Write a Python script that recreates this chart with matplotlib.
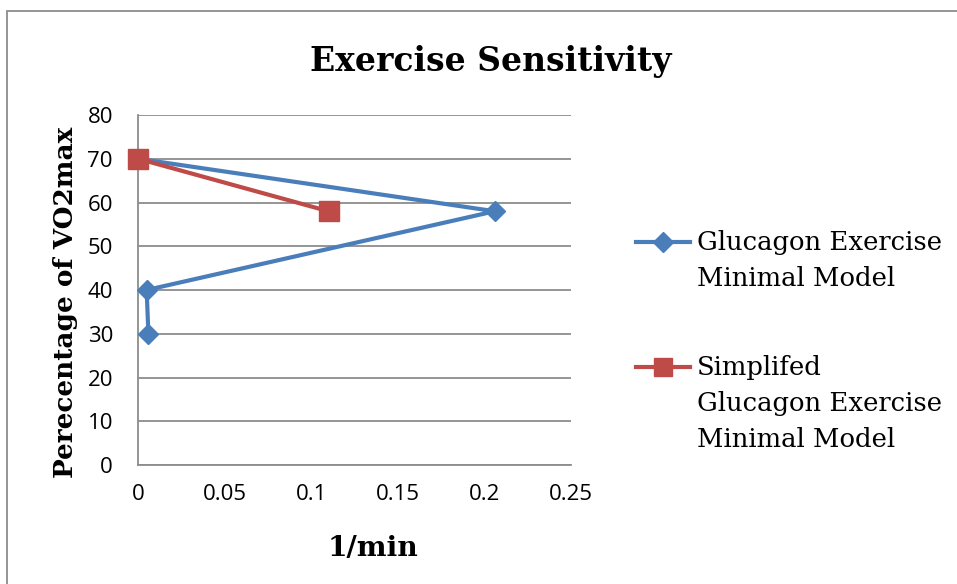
import matplotlib.pyplot as plt
from matplotlib.lines import Line2D
from matplotlib.patches import Rectangle

# data
glucagon_x = [0.0, 0.206, 0.005, 0.006]
glucagon_y = [70, 58, 40, 30]
simplified_x = [0.0, 0.11]
simplified_y = [70, 58]

x_ticks = [0, 0.05, 0.1, 0.15, 0.2, 0.25]
x_labels = ["0", "0.05", "0.1", "0.15", "0.2", "0.25"]
y_ticks = [0, 10, 20, 30, 40, 50, 60, 70, 80]

names = ["Glucagon Exercise\nMinimal Model",
         "Simplifed\nGlucagon Exercise\nMinimal Model"]
colors = ["#4a7ebb", "#be4b48"]

serif = "DejaVu Serif"
sans = "Open Sans"
grey = "#8c8c8c"

W, H = 957, 584
fig = plt.figure(figsize=(W / 100, H / 100), dpi=100)
ax = fig.add_axes([138 / W, 1 - 465 / H, (571 - 138) / W, (465 - 115) / H])
renderer = fig.canvas.get_renderer()


def fit_width(txt, target_px):
    # scale font so the drawn text is target_px wide
    w = txt.get_window_extent(renderer).width
    txt.set_fontsize(txt.get_fontsize() * target_px / w)


# chart-area border, runs off the right and bottom edges
fig.patches.append(Rectangle((7 / W, -0.1), 1.2, 1 - 11 / H + 0.1,
                             transform=fig.transFigure, fill=False,
                             edgecolor=grey, linewidth=1.3))

ax.plot(glucagon_x, glucagon_y, color=colors[0], linewidth=3.0, marker="D",
        markersize=10, markeredgecolor=colors[0], clip_on=False, zorder=3)
ax.plot(simplified_x, simplified_y, color=colors[1], linewidth=3.0, marker="s",
        markersize=14, markeredgecolor=colors[1], clip_on=False, zorder=3)

ax.set_xlim(0, 0.25)
ax.set_ylim(0, 80)
ax.set_xticks(x_ticks)
ax.set_xticklabels(x_labels)
ax.set_yticks(y_ticks)
ax.yaxis.grid(True, color=grey, linewidth=1.3)
ax.set_axisbelow(True)
for s in ["top", "right"]:
    ax.spines[s].set_visible(False)
for s in ["left", "bottom"]:
    ax.spines[s].set_color(grey)
    ax.spines[s].set_linewidth(1.3)
ax.tick_params(axis="x", length=0, labelsize=16, pad=14)
ax.tick_params(axis="y", length=0, labelsize=16, pad=18)
for t in ax.get_xticklabels() + ax.get_yticklabels():
    t.set_fontfamily(sans)

title = fig.text(491 / W, 1 - 61 / H, "Exercise Sensitivity", ha="center",
                 va="center", fontsize=20, fontweight="bold", family=serif)
fit_width(title, 362)
xlab = fig.text(373 / W, 1 - 548 / H, "1/min", ha="center", va="center",
                fontsize=16, fontweight="bold", family=serif)
fit_width(xlab, 91)
ylab = fig.text(66 / W, 1 - 302 / H, "Perecentage of VO2max", ha="center",
                va="center", rotation=90, fontsize=16, fontweight="bold",
                family=serif)
ylab.set_rotation(0)
fit_width(ylab, 350)
ylab.set_rotation(90)

# legend drawn by hand: marker sits on the first line of each label
probe = fig.text(0, 0, "Glucagon Exercise", fontsize=16, family=serif)
fit_width(probe, 245)
legend_fs = probe.get_fontsize()
probe.remove()
em = legend_fs * 100 / 72

legend_y = [242, 367]
markers = ["D", "s"]
msizes = [10, 13]
for name, c, y, m, ms in zip(names, colors, legend_y, markers, msizes):
    fig.add_artist(Line2D([636 / W, 663 / W, 690 / W], [1 - y / H] * 3,
                          transform=fig.transFigure, color=c, linewidth=3.0,
                          marker=m, markersize=ms, markevery=[1],
                          markeredgecolor=c))
    fig.text(697 / W, 1 - (y - 0.45 * em) / H, name, ha="left", va="top",
             fontsize=legend_fs, family=serif, linespacing=1.55)

fig.savefig("out.png", dpi=100)
